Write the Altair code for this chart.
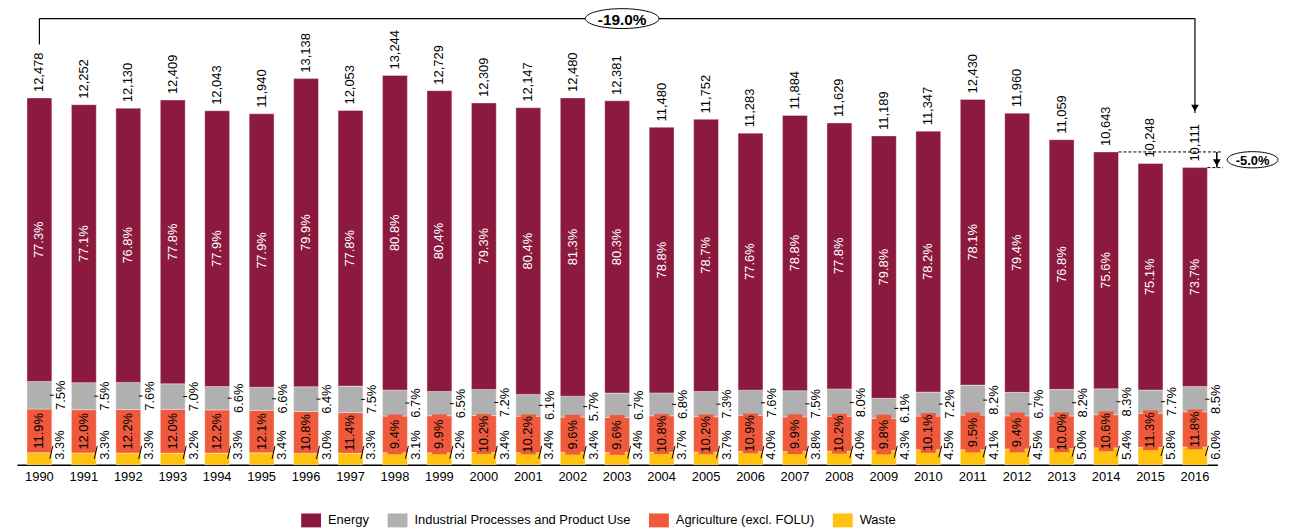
import altair as alt
import pandas as pd

years = list(range(1990, 2017))
totals = [12478, 12252, 12130, 12409, 12043, 11940, 13138, 12053, 13244, 12729,
          12309, 12147, 12480, 12381, 11480, 11752, 11283, 11884, 11629, 11189,
          11347, 12430, 11960, 11059, 10643, 10248, 10111]
energy_pct = [77.3, 77.1, 76.8, 77.8, 77.9, 77.9, 79.9, 77.8, 80.8, 80.4, 79.3, 80.4, 81.3, 80.3,
              78.8, 78.7, 77.6, 78.8, 77.8, 79.8, 78.2, 78.1, 79.4, 76.8, 75.6, 75.1, 73.7]
ippu_pct = [7.5, 7.5, 7.6, 7.0, 6.6, 6.6, 6.4, 7.5, 6.7, 6.5, 7.2, 6.1, 5.7, 6.7,
            6.8, 7.3, 7.6, 7.5, 8.0, 6.1, 7.2, 8.2, 6.7, 8.2, 8.3, 7.7, 8.5]
agri_pct = [11.9, 12.0, 12.2, 12.0, 12.2, 12.1, 10.8, 11.4, 9.4, 9.9, 10.2, 10.2, 9.6, 9.6,
            10.8, 10.2, 10.9, 9.9, 10.2, 9.8, 10.1, 9.5, 9.4, 10.0, 10.6, 11.3, 11.8]
waste_pct = [3.3, 3.3, 3.3, 3.2, 3.3, 3.4, 3.0, 3.3, 3.1, 3.2, 3.4, 3.4, 3.4, 3.4,
             3.7, 3.7, 4.0, 3.8, 4.0, 4.3, 4.5, 4.1, 4.5, 5.0, 5.4, 5.8, 6.0]

categories = ["Energy", "Industrial Processes and Product Use", "Agriculture (excl. FOLU)", "Waste"]
colors = ["#8C1A3F", "#B0B0B0", "#F05A3C", "#FFC20E"]

FONT = "Liberation Sans"

# ---- build tables
rows = []
wide = []
for i, yr in enumerate(years):
    t = totals[i]
    w = t * waste_pct[i] / 100
    a = t * agri_pct[i] / 100
    p = t * ippu_pct[i] / 100
    b0, b1 = 0, w
    b2 = b1 + a
    b3 = b2 + p
    rows += [
        {"year": yr, "cat": "Waste", "y0": b0, "y1": b1},
        {"year": yr, "cat": "Agriculture (excl. FOLU)", "y0": b1, "y1": b2},
        {"year": yr, "cat": "Industrial Processes and Product Use", "y0": b2, "y1": b3},
        {"year": yr, "cat": "Energy", "y0": b3, "y1": t},
    ]
    wide.append({
        "year": yr, "total": t, "zero": 0,
        "total_lbl": f"{t:,}",
        "e_mid": (b3 + t) / 2, "e_lbl": f"{energy_pct[i]:.1f}%",
        "i_mid": (b2 + b3) / 2, "i_lbl": f"{ippu_pct[i]:.1f}%",
        "a_mid": (b1 + b2) / 2, "a_lbl": f"{agri_pct[i]:.1f}%",
        "w_mid": w / 2, "w_lbl": f"{waste_pct[i]:.1f}%",
    })
long_df = pd.DataFrame(rows)
wide_df = pd.DataFrame(wide)

x_enc = alt.X("year:O", title=None,
              scale=alt.Scale(paddingInner=0.437, paddingOuter=0.224),
              axis=alt.Axis(labelAngle=0, ticks=False, domainColor="black", domainWidth=1.3,
                            labelFontSize=13, labelColor="black", labelFont=FONT, labelPadding=6))
y_scale = alt.Scale(domain=[0, 15350], nice=False, zero=True)

rect_shape = "M -1 -0.7 L 1 -0.7 L 1 0.7 L -1 0.7 Z"

bars = alt.Chart(long_df).mark_bar(size=25, stroke="white", strokeWidth=0.6, strokeOpacity=0.6).encode(
    x=x_enc,
    y=alt.Y("y0:Q", scale=y_scale, axis=None),
    y2="y1:Q",
    color=alt.Color("cat:N", scale=alt.Scale(domain=categories, range=colors),
                    legend=alt.Legend(title=None, orient="none", legendX=286, legendY=500,
                                      direction="horizontal", columns=4, symbolType=rect_shape,
                                      symbolSize=400, symbolStrokeWidth=0, labelFontSize=13,
                                      labelFont=FONT, labelColor="black", columnPadding=18,
                                      labelOffset=7, labelLimit=600)),
)

base = alt.Chart(wide_df)

energy_lbl = base.mark_text(angle=270, color="white", fontSize=13, font=FONT,
                            align="center", baseline="middle").encode(
    x="year:O", y="e_mid:Q", text="e_lbl:N")

agri_box = base.mark_bar(size=15, color="#F05A3C", yOffset=20, y2Offset=-20).encode(
    x="year:O", y="a_mid:Q", y2="a_mid:Q")

agri_lbl = base.mark_text(angle=270, color="black", fontSize=13, font=FONT,
                          align="center", baseline="middle").encode(
    x="year:O", y="a_mid:Q", text="a_lbl:N")

ippu_lbl = base.mark_text(angle=270, color="black", fontSize=13, font=FONT,
                          align="center", baseline="middle", xOffset=21.5).encode(
    x="year:O", y="i_mid:Q", text="i_lbl:N")

ippu_dash = base.mark_rule(color="black", strokeWidth=1, xOffset=10.5, x2Offset=14.5).encode(
    x="year:O", x2="year:O", y="i_mid:Q")

waste_lbl = base.mark_text(angle=270, color="black", fontSize=13, font=FONT,
                           align="left", baseline="middle", xOffset=21, dx=5).encode(
    x="year:O", y="zero:Q", text="w_lbl:N")

waste_lead = base.mark_rule(color="black", strokeWidth=1, xOffset=10.5, x2Offset=13.5,
                            y2Offset=-19).encode(
    x="year:O", x2="year:O", y="w_mid:Q", y2="zero:Q")

total_lbl = base.mark_text(angle=270, color="black", fontSize=13, font=FONT,
                           align="left", baseline="middle", dx=6).encode(
    x="year:O", y="total:Q", text="total_lbl:N")

# ---- annotations
t_first, t_last, t_2014 = totals[0], totals[-1], totals[years.index(2014)]
chg_all = (t_last / t_first - 1) * 100
chg_2y = (t_last / t_2014 - 1) * 100
bracket_level = 15180
bracket_start = 14302
arrow_tip = 11969

br_df = pd.DataFrame([
    {"year": 1990, "year2": 2016, "y": bracket_level, "y2": bracket_level},
])
vert_df = pd.DataFrame([
    {"year": 1990, "y": bracket_start, "y2": bracket_level},
    {"year": 2016, "y": arrow_tip, "y2": bracket_level},
])
br_h = alt.Chart(br_df).mark_rule(color="black", strokeWidth=1.2).encode(
    x="year:O", x2="year2:O", y="y:Q")
br_v = alt.Chart(vert_df).mark_rule(color="black", strokeWidth=1.2).encode(
    x="year:O", y="y:Q", y2="y2:Q")
head_df = pd.DataFrame([{"year": 2016, "y": arrow_tip}])
head1 = alt.Chart(head_df).mark_point(shape="triangle-down", filled=True, color="black",
                                       size=60, opacity=1, yOffset=-5).encode(
    x="year:O", y="y:Q")

lab1_df = pd.DataFrame([{"year": 2003, "y": bracket_level, "txt": f"{chg_all:.1f}%"}])
ell1 = alt.Chart(lab1_df).mark_point(shape="M -1 0 A 1 0.27 0 1 1 1 0 A 1 0.27 0 1 1 -1 0 Z",
                                     size=5476, filled=True, fill="white",
                                     stroke="black", strokeWidth=1, opacity=1, xOffset=5).encode(
    x="year:O", y="y:Q")
txt1 = alt.Chart(lab1_df).mark_text(font=FONT, fontSize=15.5, fontWeight="bold", color="black",
                                    xOffset=5, baseline="middle", dy=1).encode(
    x="year:O", y="y:Q", text="txt:N")

dash_df = pd.DataFrame([
    {"year": 2014, "year2": 2016, "y": t_2014},
    {"year": 2016, "year2": 2016, "y": t_last},
])
dashes = alt.Chart(dash_df).mark_rule(color="black", strokeWidth=1, strokeDash=[3, 2],
                                      xOffset=12.5, x2Offset=28).encode(
    x="year:O", x2="year2:O", y="y:Q")
arr2_df = pd.DataFrame([{"year": 2016, "y": t_2014, "y2": t_last}])
arr2 = alt.Chart(arr2_df).mark_rule(color="black", strokeWidth=1.5, xOffset=22).encode(
    x="year:O", y="y:Q", y2="y2:Q")
head2 = alt.Chart(arr2_df).mark_point(shape="triangle-down", filled=True, color="black",
                                      size=60, opacity=1, xOffset=22, yOffset=-5).encode(
    x="year:O", y="y2:Q")
lab2_df = pd.DataFrame([{"year": 2016, "y": (t_2014 + t_last) / 2, "txt": f"{chg_2y:.1f}%"}])
ell2 = alt.Chart(lab2_df).mark_point(shape="M -1 0 A 1 0.32 0 1 1 1 0 A 1 0.32 0 1 1 -1 0 Z",
                                     size=2601, filled=True, fill="white", stroke="black",
                                     strokeWidth=1, opacity=1, xOffset=58).encode(
    x="year:O", y="y:Q")
txt2 = alt.Chart(lab2_df).mark_text(font=FONT, fontSize=13, fontWeight="bold", color="black",
                                    xOffset=58, baseline="middle", dy=1).encode(
    x="year:O", y="y:Q", text="txt:N")

chart = alt.layer(
    bars, agri_box, energy_lbl, agri_lbl, ippu_lbl, ippu_dash, waste_lbl, waste_lead, total_lbl,
    br_h, br_v, head1, ell1, txt1, dashes, arr2, head2, ell2, txt2,
).properties(
    width=1208, height=454,
    padding={"left": 9, "top": 4, "right": 68, "bottom": 62},
    autosize=alt.AutoSizeParams(type="none"),
).configure(font=FONT).configure_view(stroke=None)

chart.save("out.html", embed_options={"renderer": "svg", "actions": False})
